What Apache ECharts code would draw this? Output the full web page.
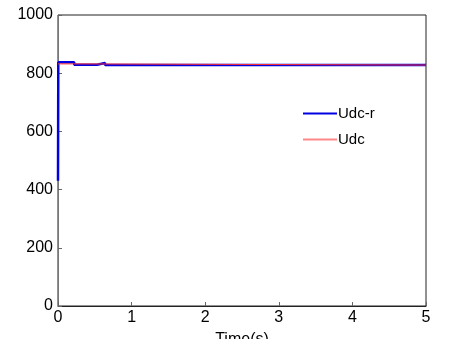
<!DOCTYPE html>
<html>
<head>
<meta charset="utf-8">
<script src="https://cdn.jsdelivr.net/npm/echarts@6/dist/echarts.min.js"></script>
<style>
  html, body {margin: 0; padding: 0; background: #fff;}
  #main {width: 454px; height: 339px;}
</style>
</head>
<body>
<div id="main"></div>
<script>
// Udc-r (reference) and Udc (measured) — [time s, voltage]
const udcRef = [
  [0, 430], [0.004, 838], [0.22, 838], [0.22, 829], [0.53, 829],
  [0.53, 835], [0.64, 835], [0.64, 828], [5, 828]
];
const udc = [
  [0, 832], [0.2, 832], [0.2, 828], [5, 828]
];
const xTicks = [0, 1, 2, 3, 4, 5];
const yTicks = [0, 200, 400, 600, 800, 1000];

const chart = echarts.init(document.getElementById('main'));
const axisColor = '#222';
const font = 'Arial, "Liberation Sans", sans-serif';

chart.setOption({
  animation: false,
  grid: {
    left: 58, top: 15, right: 28, bottom: 33,
    outerBoundsMode: 'none', containLabel: false,
    show: true, borderColor: axisColor, borderWidth: 1
  },
  legend: {
    orient: 'vertical',
    left: 298, top: 101,
    itemWidth: 34, itemHeight: 2, itemGap: 11,
    icon: 'rect',
    textStyle: {fontFamily: font, fontSize: 15, color: '#000', padding: [0, 0, 0, -4]},
    data: ['Udc-r', 'Udc']
  },
  xAxis: {
    type: 'value',
    min: xTicks[0], max: xTicks[xTicks.length - 1], interval: 1,
    name: 'Time(s)', nameLocation: 'middle', nameGap: 26,
    nameTextStyle: {fontFamily: font, fontSize: 16, color: '#000'},
    axisLine: {lineStyle: {color: axisColor, width: 1}},
    axisTick: {inside: true, length: 4, lineStyle: {color: '#666'}},
    axisLabel: {fontFamily: font, fontSize: 16, color: '#000', margin: 4},
    splitLine: {show: false}
  },
  yAxis: {
    type: 'value',
    min: yTicks[0], max: yTicks[yTicks.length - 1], interval: 200,
    axisLine: {show: true, lineStyle: {color: '#777', width: 1}},
    axisTick: {show: true, inside: true, length: 4, lineStyle: {color: '#666'}},
    axisLabel: {fontFamily: font, fontSize: 16, color: '#000', margin: 5,
      formatter: v => String(v)},
    splitLine: {show: false}
  },
  series: [
    {
      name: 'Udc-r', type: 'line', data: udcRef,
      showSymbol: false, symbol: 'none',
      lineStyle: {color: '#0000e0', width: 2.5},
      itemStyle: {color: '#0000e0'}
    },
    {
      name: 'Udc', type: 'line', data: udc,
      showSymbol: false, symbol: 'none',
      lineStyle: {color: '#ff3030', width: 1},
      itemStyle: {color: '#ff8888'}
    }
  ]
});
</script>
</body>
</html>
